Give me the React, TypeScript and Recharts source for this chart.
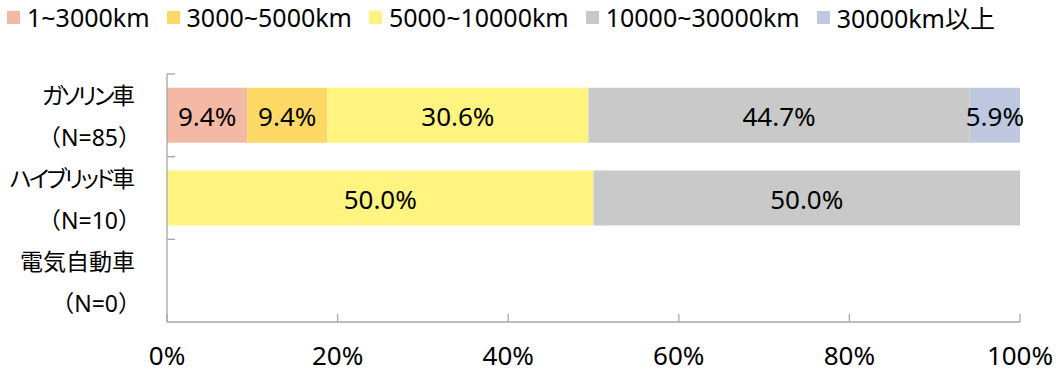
import { BarChart, Bar, XAxis, YAxis } from 'recharts'

// 走行距離帯の構成比（%）
const CATEGORIES = ['ガソリン車', 'ハイブリッド車', '電気自動車']
const SAMPLE_N = [85, 10, 0]
const SERIES_NAMES = ['1~3000km', '3000~5000km', '5000~10000km', '10000~30000km', '30000km以上']
const SERIES_COLORS = ['#f4b9a5', '#ffd966', '#fff47f', '#c9c9c9', '#bec9e1']
const KM_1_3000 = [9.4, 0, 0]
const KM_3000_5000 = [9.4, 0, 0]
const KM_5000_10000 = [30.6, 50.0, 0]
const KM_10000_30000 = [44.7, 50.0, 0]
const KM_30000_PLUS = [5.9, 0, 0]
const X_TICKS = [0, 20, 40, 60, 80, 100]

const SERIES_VALUES = [KM_1_3000, KM_3000_5000, KM_5000_10000, KM_10000_30000, KM_30000_PLUS]
const KEYS = SERIES_VALUES.map((_, i) => `s${i}`)

const data = CATEGORIES.map((name, row) => {
  const entry: Record<string, string | number> = { name, n: SAMPLE_N[row] }
  SERIES_VALUES.forEach((vals, i) => (entry[KEYS[i]] = vals[row]))
  return entry
})

const AXIS = '#a6a6a6'
const INK = '#000000'
const FONT = "'Noto Sans', 'Noto Sans CJK JP', sans-serif"
const JP_FONT = "'Noto Sans CJK JP', sans-serif"

const isKana = (c: string) => c >= '\u30a0' && c <= '\u30ff'

function XTick({ x, y, payload }: any) {
  return (
    <g>
      <line x1={x} x2={x} y1={y} y2={y - 8} stroke={AXIS} strokeWidth={1.3} />
      <text x={x} y={y + 43} textAnchor="middle" fontSize={26} fill={INK} fontFamily={FONT}>
        {payload.value}%
      </text>
    </g>
  )
}

function YTick({ x, y, payload }: any) {
  const half = payload.offset ?? 0
  const row = CATEGORIES.indexOf(payload.value)
  const name: string = payload.value
  return (
    <g>
      <line x1={x} x2={x + 8} y1={y - half} y2={y - half} stroke={AXIS} strokeWidth={1.3} />
      <text
        x={x - 32}
        y={y - 11}
        textAnchor="end"
        fontSize={23}
        fill={INK}
        fontFamily={JP_FONT}
        style={{ fontFeatureSettings: '"palt"' }}
      >
        {name.split('').map((c, i) => (
          <tspan key={i} style={{ letterSpacing: isKana(c) ? -2.5 : 0 }}>
            {c}
          </tspan>
        ))}
      </text>
      <text x={x - 26} y={y + 31} textAnchor="end" fontSize={23} fill={INK} fontFamily={FONT}>
        （N={SAMPLE_N[row]}）
      </text>
    </g>
  )
}

function makeLabel(key: string) {
  return (props: any) => {
    const { x, y, width, height, index } = props
    const v = data[index]?.[key] as number
    if (!v) return null
    return (
      <text
        key={`${key}-${index}`}
        x={x + width / 2}
        y={y + height / 2 + 11}
        textAnchor="middle"
        fontSize={26}
        fill={INK}
        fontFamily={FONT}
      >
        {v.toFixed(1)}%
      </text>
    )
  }
}

function Legend() {
  return (
    <div
      style={{
        position: 'absolute',
        left: 7,
        top: 0,
        height: 34,
        display: 'flex',
        alignItems: 'center',
        gap: 17,
        fontFamily: FONT,
        fontSize: 25,
        color: INK,
        whiteSpace: 'nowrap',
      }}
    >
      {SERIES_NAMES.map((name, i) => (
        <div key={name} style={{ display: 'flex', alignItems: 'center', gap: 7 }}>
          <span style={{ width: 13, height: 13, background: SERIES_COLORS[i], display: 'inline-block' }} />
          <span>{name}</span>
        </div>
      ))}
    </div>
  )
}

export default function App() {
  return (
    <div style={{ position: 'absolute', left: 0, top: 0, width: 1062, height: 373, background: '#fff' }}>
      <Legend />
      <BarChart
        width={1062}
        height={373}
        data={data}
        layout="vertical"
        margin={{ top: 74, right: 42, bottom: 0, left: 0 }}
        barCategoryGap="16.7%"
      >
        <XAxis
          type="number"
          domain={[0, 100]}
          ticks={X_TICKS}
          height={51}
          stroke={AXIS}
          strokeWidth={1.3}
          tickLine={false}
          tickSize={0}
          tickMargin={0}
          tick={<XTick />}
          interval={0}
        />
        <YAxis
          type="category"
          dataKey="name"
          width={167}
          stroke={AXIS}
          strokeWidth={1.3}
          tickLine={false}
          tickSize={0}
          tickMargin={0}
          tick={<YTick />}
          interval={0}
        />
        {KEYS.map((k, i) => (
          <Bar
            key={k}
            dataKey={k}
            name={SERIES_NAMES[i]}
            stackId="a"
            fill={SERIES_COLORS[i]}
            isAnimationActive={false}
            label={makeLabel(k)}
          />
        ))}
      </BarChart>
    </div>
  )
}
